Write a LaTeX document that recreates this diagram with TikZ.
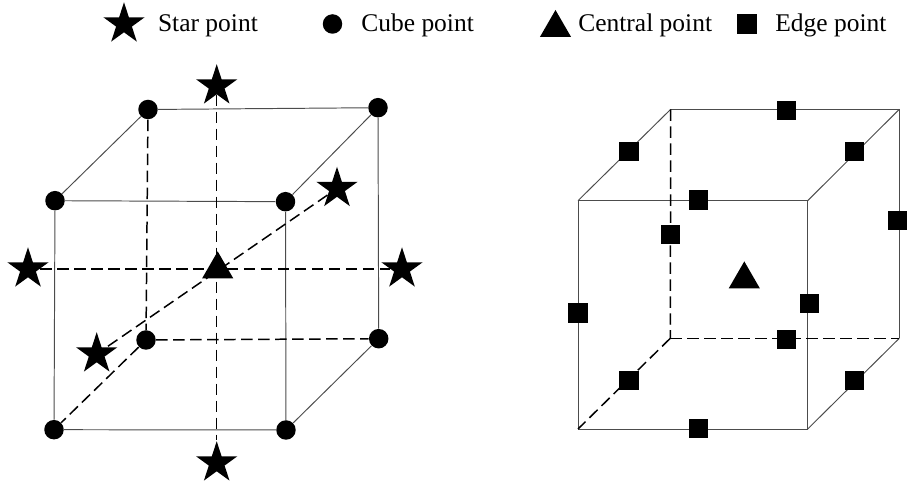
\documentclass[tikz,border=0pt]{standalone}
\usepackage{fontspec}
\setmainfont{Liberation Serif}
\usetikzlibrary{shapes.geometric}
\pgfdeclarelayer{edgelayer}
\pgfdeclarelayer{nodelayer}
\pgfsetlayers{edgelayer,nodelayer,main}
\tikzstyle{none}=[inner sep=0pt]
\tikzstyle{legendtext}=[inner sep=0pt, anchor=base west, font=\fontsize{14.5pt}{17pt}\selectfont]
\tikzstyle{edge}=[draw=black!70, line width=0.55pt]
\tikzstyle{hidden}=[draw=black, line width=0.85pt, dash pattern=on 0.23cm off 0.11cm]
\tikzstyle{vertex}=[circle, fill=black, inner sep=0pt, minimum size=0.39cm]
\tikzstyle{starpoint}=[star, star points=5, star point ratio=2.618, fill=black, inner sep=0pt, minimum size=0.87cm]
\tikzstyle{centralpoint}=[regular polygon, regular polygon sides=3, fill=black, inner sep=0pt, minimum size=0.72cm]
\tikzstyle{edgepoint}=[rectangle, fill=black, inner sep=0pt, minimum size=0.39cm]

\begin{document}
\begin{tikzpicture}[x=0.02cm, y=-0.02cm]
	\useasboundingbox (0, 0) rectangle (907, 482);
	\begin{pgfonlayer}{nodelayer}
		\node [style=starpoint] (k0) at (124, 24) {};
		\node [style=legendtext] (k1) at (157.7, 32) {Star point};
		\node [style=vertex] (k2) at (332.5, 24) {};
		\node [style=legendtext] (k3) at (361, 32) {Cube point};
		\node [style=centralpoint] (k4) at (555.5, 28) {};
		\node [style=legendtext] (k5) at (578, 32) {Central point};
		\node [style=edgepoint] (k6) at (747, 24) {};
		\node [style=legendtext] (k7) at (775, 32) {Edge point};

		\node [style=vertex] (0) at (148, 109.5) {};
		\node [style=vertex] (1) at (378, 107.7) {};
		\node [style=vertex] (2) at (55, 200.7) {};
		\node [style=vertex] (3) at (285.5, 201.7) {};
		\node [style=vertex] (4) at (146, 340) {};
		\node [style=vertex] (5) at (378.7, 338.7) {};
		\node [style=vertex] (6) at (54, 429.7) {};
		\node [style=vertex] (7) at (286, 430) {};
		\node [style=starpoint] (8) at (216.7, 86) {};
		\node [style=starpoint] (9) at (216.7, 463) {};
		\node [style=starpoint] (10) at (28, 269) {};
		\node [style=starpoint] (11) at (402, 269) {};
		\node [style=starpoint] (12) at (337, 188.5) {};
		\node [style=starpoint] (13) at (96.7, 354) {};
		\node [style=centralpoint] (14) at (217.7, 269.4) {};

		\node [style=none] (20) at (670.7, 109.3) {};
		\node [style=none] (21) at (899.3, 109.3) {};
		\node [style=none] (22) at (578, 200.7) {};
		\node [style=none] (23) at (807.7, 200.7) {};
		\node [style=none] (24) at (670.3, 338.3) {};
		\node [style=none] (25) at (899.3, 338.3) {};
		\node [style=none] (26) at (578, 429) {};
		\node [style=none] (27) at (807.7, 429) {};
		\node [style=edgepoint] (28) at (786.7, 110.3) {};
		\node [style=edgepoint] (29) at (629, 151.7) {};
		\node [style=edgepoint] (30) at (854.3, 151.7) {};
		\node [style=edgepoint] (31) at (698.3, 200) {};
		\node [style=edgepoint] (32) at (670.7, 234.7) {};
		\node [style=edgepoint] (33) at (897.3, 220.7) {};
		\node [style=edgepoint] (34) at (578, 313) {};
		\node [style=edgepoint] (35) at (809.7, 303.7) {};
		\node [style=edgepoint] (36) at (786.7, 339.3) {};
		\node [style=edgepoint] (37) at (629, 380.7) {};
		\node [style=edgepoint] (38) at (854.3, 380.7) {};
		\node [style=edgepoint] (39) at (698.3, 428.7) {};
		\node [style=centralpoint] (40) at (744.3, 279.4) {};
	\end{pgfonlayer}
	\begin{pgfonlayer}{edgelayer}
		\draw [style=edge] (0) to (1);
		\draw [style=edge] (2) to (3);
		\draw [style=edge] (6) to (7);
		\draw [style=edge] (2) to (6);
		\draw [style=edge] (3) to (7);
		\draw [style=edge] (1) to (5);
		\draw [style=edge] (0) to (2);
		\draw [style=edge] (1) to (3);
		\draw [style=edge] (5) to (7);
		\draw [style=hidden] (0) to (4);
		\draw [style=hidden] (4) to (5);
		\draw [style=hidden] (4) to (6);
		\draw [style=hidden] (8) to (9);
		\draw [style=hidden] (10) to (11);
		\draw [style=hidden] (12) to (13);

		\draw [style=edge] (20.center) to (21.center);
		\draw [style=edge] (22.center) to (23.center);
		\draw [style=edge] (26.center) to (27.center);
		\draw [style=edge] (22.center) to (26.center);
		\draw [style=edge] (23.center) to (27.center);
		\draw [style=edge] (21.center) to (25.center);
		\draw [style=edge] (20.center) to (22.center);
		\draw [style=edge] (21.center) to (23.center);
		\draw [style=edge] (25.center) to (27.center);
		\draw [style=hidden] (20.center) to (24.center);
		\draw [style=hidden] (24.center) to (25.center);
		\draw [style=hidden] (24.center) to (26.center);
	\end{pgfonlayer}
\end{tikzpicture}
\end{document}
